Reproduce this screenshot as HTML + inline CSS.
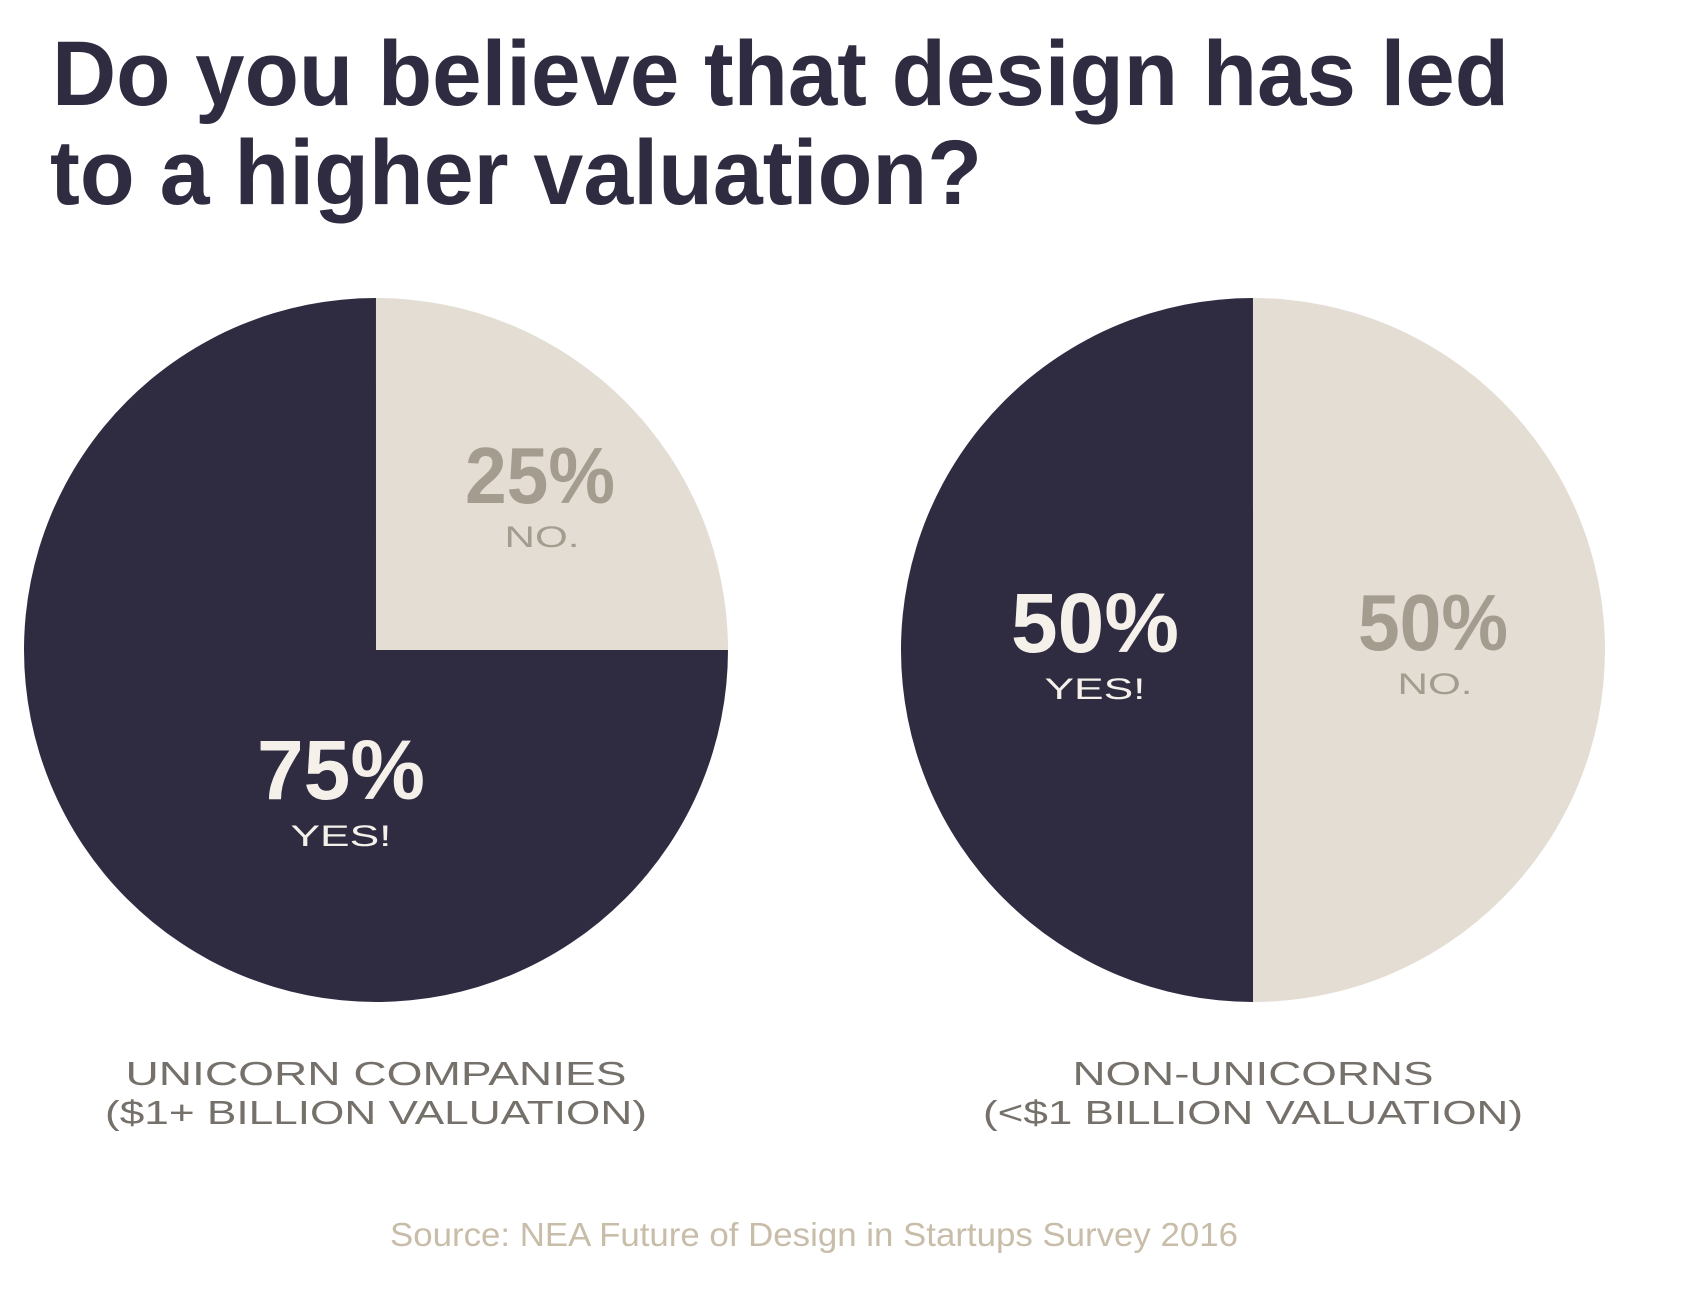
<!DOCTYPE html>
<html><head><meta charset="utf-8"><style>
html,body{margin:0;padding:0;background:#fff;}
svg{display:block;font-family:"Liberation Sans",sans-serif;}
</style></head><body>
<svg id="chart" width="1685" height="1291" viewBox="0 0 1685 1291" xmlns="http://www.w3.org/2000/svg">
<g fill="#2f2c42" font-weight="bold" font-size="92">
<text x="52" y="105" textLength="1457" lengthAdjust="spacingAndGlyphs">Do you believe that design has led</text>
<text x="50" y="204" textLength="932" lengthAdjust="spacingAndGlyphs">to a higher valuation?</text>
</g>
<g id="pies"></g>
<text x="390" y="1246" font-size="33" fill="#c8bda9" textLength="848" lengthAdjust="spacingAndGlyphs">Source: NEA Future of Design in Startups Survey 2016</text>
</svg>
<script>
const groups = ["UNICORN COMPANIES", "NON-UNICORNS"];
const subtitles = ["($1+ BILLION VALUATION)", "(<$1 BILLION VALUATION)"];
const yesValues = [75, 50];
const noValues = [25, 50];
const yesLabel = "YES!";
const noLabel = "NO.";

const NS = "http://www.w3.org/2000/svg";
const pies = document.getElementById('pies');
const centers = [376, 1253], cy = 650, R = 352;
const dark = "#2f2c42", light = "#e3ddd3";
// layout: label offsets from pie centre [noDx,noDy,yesDx,yesDy]
const labelOffsets = [[164,-147,-35,149],[180,0,-158,2]];
const groupWidths = [[501,542],[361,540]];
function pt(cx, a, r){ return [cx + r*Math.sin(a), cy - r*Math.cos(a)]; }
function wedge(cx, a0, a1, color, name){
  const p = document.createElementNS(NS, 'path');
  const [x0,y0] = pt(cx,a0,R), [x1,y1] = pt(cx,a1,R);
  const large = (a1-a0) > Math.PI ? 1 : 0;
  p.setAttribute('d', `M${cx},${cy} L${x0},${y0} A${R},${R} 0 ${large} 1 ${x1},${y1} Z`);
  p.setAttribute('fill', color);
  
  
  pies.appendChild(p);
}
function txt(x, y, s, size, color, bold, len, name){
  const t = document.createElementNS(NS, 'text');
  t.setAttribute('x', x); t.setAttribute('y', y);
  t.setAttribute('text-anchor', 'middle');
  t.setAttribute('font-size', size);
  t.setAttribute('fill', color);
  if (bold) t.setAttribute('font-weight', 'bold');
  if (len) { t.setAttribute('textLength', len); t.setAttribute('lengthAdjust', 'spacingAndGlyphs'); }
  
  
  t.textContent = s;
  pies.appendChild(t);
}
groups.forEach((g, i) => {
  const cx = centers[i];
  const total = yesValues[i] + noValues[i];
  const noA = noValues[i] / total * 2 * Math.PI;
  wedge(cx, 0, noA, light, 'no-slice-' + i);
  wedge(cx, noA, 2*Math.PI - 0.0001, dark, 'yes-slice-' + i);
  const o = labelOffsets[i];
  txt(cx + o[0], cy + o[1], noValues[i] + '%', 80, '#a49c8f', true, 150, 'no-percent-' + i);
  txt(cx + o[0] + 2, cy + o[1] + 44, noLabel, 30, '#a49c8f', false, 75, 'no-label-' + i);
  txt(cx + o[2], cy + o[3], yesValues[i] + '%', 84, '#f5f1ea', true, 168, 'yes-percent-' + i);
  txt(cx + o[2], cy + o[3] + 47, yesLabel, 30, '#f5f1ea', false, 101, 'yes-label-' + i);
  txt(cx, 1085, g, 33, '#75706a', false, groupWidths[i][0], 'group-label-' + i);
  txt(cx, 1124, subtitles[i], 33, '#75706a', false, groupWidths[i][1], 'group-subtitle-' + i);
});
</script>
</body></html>
